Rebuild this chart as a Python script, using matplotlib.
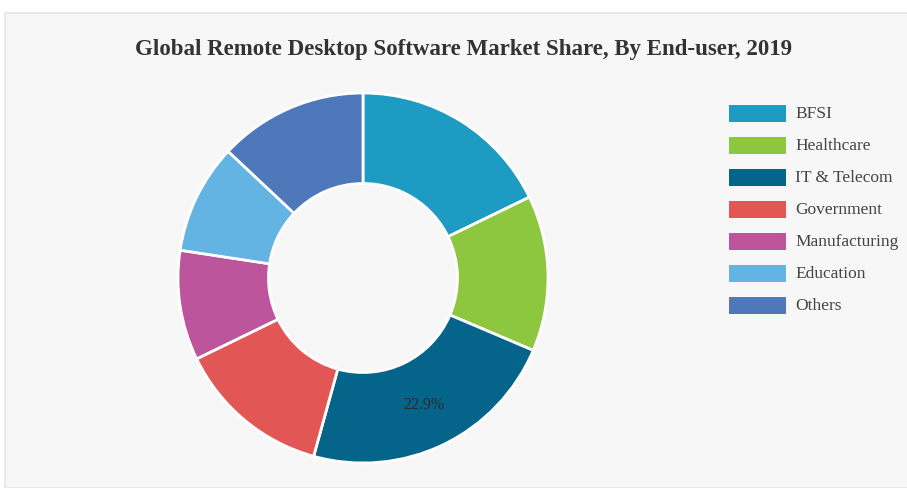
import matplotlib
matplotlib.use("Agg")
import matplotlib.pyplot as plt
from matplotlib.patches import Rectangle
import numpy as np

categories = ["BFSI", "Healthcare", "IT & Telecom", "Government",
              "Manufacturing", "Education", "Others"]
shares = [17.8, 13.6, 22.9, 13.5, 9.6, 9.6, 13.0]
colors = ["#1e9bc2", "#8dc63f", "#05648a", "#e35656",
          "#bd559c", "#63b3e3", "#4e78b9"]
labelled = ["IT & Telecom"]
title = "Global Remote Desktop Software Market Share, By End-user, 2019"

W, H = 907, 489
fig = plt.figure(figsize=(W / 100, H / 100), dpi=100)
fig.patch.set_facecolor("white")

# card panel behind everything
fig.patches.append(Rectangle((5 / W, 0), 1, (H - 14) / H, transform=fig.transFigure,
                             facecolor="#f7f7f7", edgecolor="#e6e6e6", lw=1.2, zorder=-10))

serif = ["Liberation Serif", "DejaVu Serif"]

fig.text(464 / W, 1 - 50 / H, title, ha="center", va="center",
         fontsize=16.5, fontweight="bold", family=serif, color="#333333")

# donut
cx, cy, R = 363, 279, 185
half = 200
ax = fig.add_axes([(cx - half) / W, (H - cy - half) / H, 2 * half / W, 2 * half / H])
ax.set_facecolor("none")

inner = 94.5 / R
wedges, _ = ax.pie(shares, colors=colors, startangle=90, counterclock=False, radius=1,
                   wedgeprops=dict(width=1 - inner, edgecolor="white", linewidth=2))
ax.set_xlim(-half / R, half / R)
ax.set_ylim(-half / R, half / R)
ax.axis("off")

total = sum(shares)
start = 0.0
for cat, val in zip(categories, shares):
    mid = start + val / 2
    if cat in labelled:
        ang = np.deg2rad(90 - mid / total * 360)
        r = (1 + inner) / 2
        ax.text(r * np.cos(ang), r * np.sin(ang), f"{val}%", ha="center", va="center",
                fontsize=11.5, family=serif, color="#2b2b2b")
    start += val

# legend
for i, (cat, col) in enumerate(zip(categories, colors)):
    y = 114.5 + i * 32
    fig.patches.append(Rectangle((729 / W, 1 - (y + 8.5) / H), 57 / W, 17 / H,
                                 transform=fig.transFigure, facecolor=col,
                                 edgecolor="none", zorder=2))
    fig.text(795 / W, 1 - y / H, cat, ha="left", va="center", fontsize=12.5,
             family=serif, color="#444444")

fig.savefig("out.png", dpi=100, facecolor=fig.get_facecolor())
